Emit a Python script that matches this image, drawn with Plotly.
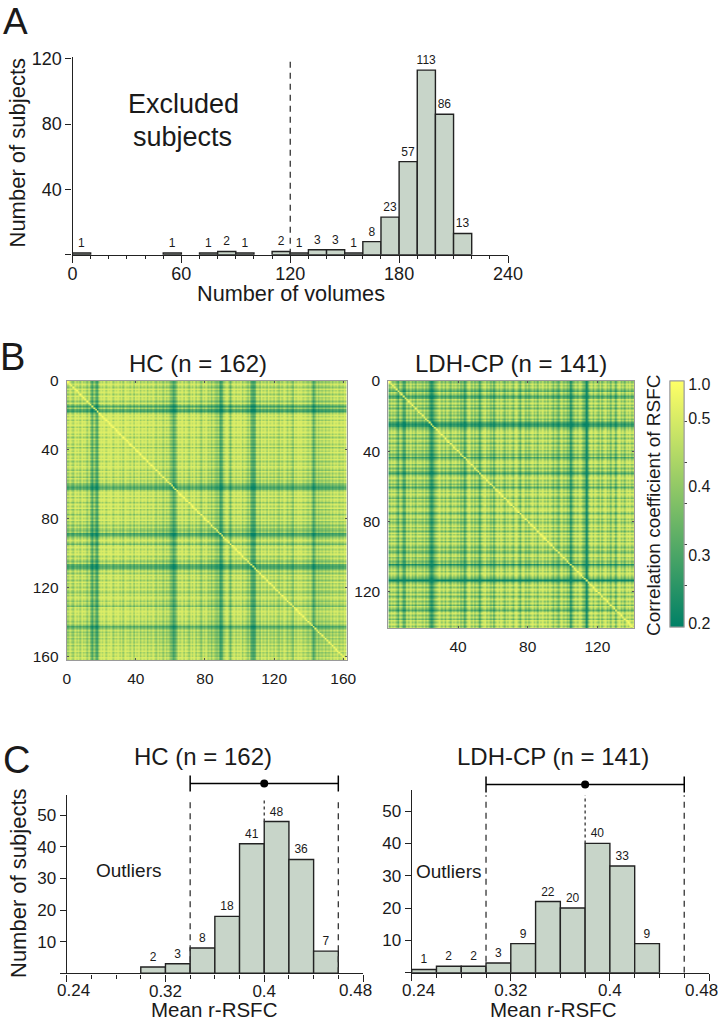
import numpy as np
import plotly.graph_objects as go

# panel A histogram
vol_left = [0, 50, 70, 80, 90, 110, 120, 130, 140, 150, 160, 170, 180, 190, 200, 210]
vol_counts = [1, 1, 1, 2, 1, 2, 1, 3, 3, 1, 8, 23, 57, 113, 86, 13]
vol_cutoff = 120

# panel C histograms (left bin edge, count)
hc_left = [0.30, 0.32, 0.34, 0.36, 0.38, 0.40, 0.42, 0.44]
hc_counts = [2, 3, 8, 18, 41, 48, 36, 7]
hc_lo, hc_mean, hc_hi = 0.34, 0.40, 0.46
ldh_left = [0.24, 0.26, 0.28, 0.30, 0.32, 0.34, 0.36, 0.38, 0.40, 0.42]
ldh_counts = [1, 2, 2, 3, 9, 22, 20, 40, 33, 9]
ldh_lo, ldh_mean, ldh_hi = 0.30, 0.38, 0.46

# panel B: typical correlation of each subject, read by eye from the stripes
# of the two matrices. The matrices are symmetric, so one list per group.
hc_level = [
    .42, .51, .46, .40, .52, .44, .50, .41, .53, .45,
    .48, .39, .50, .40, .29, .41, .31, .28, .44, .52,
    .46, .54, .43, .52, .48, .55, .42, .51, .47, .53,
    .44, .52, .41, .54, .47, .50, .43, .53, .40, .51,
    .46, .54, .42, .50, .45, .53, .41, .49, .44, .52,
    .47, .40, .51, .43, .48, .39, .50, .42, .46, .38,
    .35, .29, .33, .41, .50, .45, .53, .42, .51, .47,
    .40, .52, .44, .54, .41, .49, .46, .38, .50, .44,
    .52, .41, .47, .38, .46, .40, .37, .42, .28, .31,
    .40, .46, .51, .42, .34, .45, .52, .43, .50, .46,
    .53, .41, .49, .44, .38, .46, .32, .29, .31, .42,
    .47, .39, .51, .44, .49, .40, .52, .43, .48, .41,
    .50, .44, .39, .48, .42, .51, .46, .40, .47, .43,
    .35, .49, .44, .51, .46, .50, .43, .48, .45, .41,
    .47, .38, .30, .36, .46, .39, .44, .41, .47, .40,
    .45, .42, .49, .41, .48, .44, .50, .42, .47, .43, .51, .46,
]
ldh_level = [
    .38, .48, .41, .46, .37, .31, .47, .40, .29, .34,
    .48, .39, .50, .38, .46, .35, .49, .41, .44, .38,
    .47, .36, .42, .30, .25, .28, .36, .41, .47, .51,
    .39, .48, .37, .50, .43, .36, .49, .41, .47, .38,
    .46, .35, .42, .29, .40, .47, .51, .38, .48, .36,
    .45, .37, .29, .42, .48, .51, .39, .47, .37, .44,
    .31, .43, .50, .41, .52, .44, .36, .49, .40, .51,
    .43, .37, .48, .52, .40, .34, .47, .50, .38, .46,
    .37, .44, .51, .40, .49, .36, .52, .42, .53, .41,
    .49, .38, .51, .43, .36, .47, .40, .34, .46, .50,
    .39, .45, .36, .41, .24, .37, .43, .48, .40, .51,
    .44, .38, .35, .19, .38, .45, .50, .39, .52, .44,
    .38, .51, .36, .46, .52, .39, .48, .35, .50, .41,
    .32, .47, .52, .40, .49, .37, .51, .43, .53, .41, .48,
]
# colourbar labels and where they sit along the bar (it is not linear)
cbar_r = [0.2, 0.3, 0.4, 0.5, 1.0]
cbar_pos = [0.014, 0.29, 0.57, 0.848, 0.986]
cbar_text = ["0.2", "0.3", "0.4", "0.5", "1.0"]
cbar_marks = [1 / 6, 2 / 6, 3 / 6, 4 / 6, 5 / 6]

FONT = "Liberation Sans"
INK = "#1a1a1a"
BAR_FILL = "#c8d5c9"
W, H = 718, 1020


def dx(a, b):
    return [a / W, b / W]


def dy(top, bottom):
    return [1 - bottom / H, 1 - top / H]


def matrix(level, ref):
    lv = np.array(level)
    r = np.outer(lv, lv) / ref
    np.fill_diagonal(r, 1.0)
    return np.interp(r, cbar_r, cbar_pos)


def hist(fig, left, counts, width, axes):
    fig.add_trace(go.Bar(
        x=[v + width / 2 for v in left], y=counts, width=width,
        marker=dict(color=BAR_FILL, line=dict(color="#222222", width=1.4)),
        text=counts, textposition="outside", textangle=0, constraintext="none",
        textfont=dict(size=12, family=FONT, color=INK), cliponaxis=False,
        showlegend=False, xaxis=axes[0], yaxis=axes[1],
    ))


def vline(fig, x, y0, y1, dash, axes):
    fig.add_trace(go.Scatter(
        x=[x, x], y=[y0, y1], mode="lines", cliponaxis=False, showlegend=False,
        line=dict(color="#333333", width=1.3, dash=dash), xaxis=axes[0], yaxis=axes[1],
    ))


def bracket(fig, lo, mean, hi, y, axes):
    fig.add_trace(go.Scatter(
        x=[mean], y=[y], mode="markers", showlegend=False,
        marker=dict(color="black", size=8),
        error_x=dict(type="data", array=[(hi - lo) / 2], color="black", thickness=1.5, width=8),
        xaxis=axes[0], yaxis=axes[1],
    ))


fig = go.Figure()

hist(fig, vol_left, vol_counts, 10, ("x", "y"))
vline(fig, vol_cutoff, 0, 121, "6px,5px", ("x", "y"))

hc_z = matrix(hc_level, 0.455)
ldh_z = matrix(ldh_level, 0.435)
fig.add_trace(go.Heatmap(
    x=np.arange(len(hc_level)) + 0.5, y=np.arange(len(hc_level)) + 0.5, z=hc_z,
    zsmooth="best", coloraxis="coloraxis", xaxis="x2", yaxis="y2",
))
fig.add_trace(go.Heatmap(
    x=np.arange(len(ldh_level)) + 0.5, y=np.arange(len(ldh_level)) + 0.5, z=ldh_z,
    zsmooth="best", coloraxis="coloraxis2", xaxis="x3", yaxis="y3",
))

hist(fig, hc_left, hc_counts, 0.02, ("x4", "y4"))
vline(fig, hc_lo, 0, 55, "6px,5px", ("x4", "y6"))
vline(fig, hc_hi, 0, 55, "6px,5px", ("x4", "y6"))
vline(fig, hc_mean, 48, 55, "dot", ("x4", "y6"))
bracket(fig, hc_lo, hc_mean, hc_hi, 60, ("x4", "y6"))

hist(fig, ldh_left, ldh_counts, 0.02, ("x5", "y5"))
vline(fig, ldh_lo, 0, 55, "6px,5px", ("x5", "y7"))
vline(fig, ldh_hi, 0, 55, "6px,5px", ("x5", "y7"))
vline(fig, ldh_mean, 40, 55, "dot", ("x5", "y7"))
bracket(fig, ldh_lo, ldh_mean, ldh_hi, 58.3, ("x5", "y7"))

axis_line = dict(showline=True, linecolor="#222222", linewidth=1.4, showgrid=False,
                 zeroline=False, ticks="outside", tickcolor="#222222", tickwidth=1.2)
hist_x = dict(axis_line, ticklen=7, ticklabelstandoff=-5, tickfont=dict(size=18, family=FONT, color=INK))
hist_y = dict(axis_line, ticklen=6, tickfont=dict(size=18, family=FONT, color=INK))
c_font = dict(size=17, family=FONT, color=INK)
mat_axis = dict(showline=True, linecolor="#9a9a9a", linewidth=1, mirror="ticks", showgrid=False,
                zeroline=False, ticks="inside", ticklen=2, tickcolor="#555555", tickwidth=1,
                ticklabelstandoff=4, tickfont=dict(size=15.5, family=FONT, color=INK))

# panel C end labels are nudged inwards, so they go in as annotations below
c_ticks = [0.24, 0.32, 0.40, 0.48]
c_text = ["", "0.32", "0.4", ""]
c_minor = dict(dtick=0.02, tick0=0.24, ticks="outside", ticklen=4, tickcolor="#222222", tickwidth=1)
scale = [[0, "#008066"], [1, "#ffff66"]]
bar_place = dict(x=670 / W, xanchor="left", xpad=0, y=1 - 503.85 / H, yanchor="middle", ypad=0,
                 lenmode="pixels", len=245.7, thicknessmode="pixels", thickness=14,
                 outlinecolor="#9a9a9a", outlinewidth=1, borderwidth=0)

fig.update_layout(
    width=W, height=H, autosize=False, margin=dict(l=0, r=0, t=0, b=0, autoexpand=False),
    paper_bgcolor="white", plot_bgcolor="rgba(0,0,0,0)",
    barmode="overlay", font=dict(family=FONT, color=INK),
    xaxis=dict(hist_x, domain=dx(72.5, 508), anchor="y", range=[0, 240], tickvals=[0, 60, 120, 180, 240],
               minor=dict(dtick=10, ticks="outside", ticklen=3, tickcolor="#222222", tickwidth=1)),
    yaxis=dict(hist_y, domain=dy(57.1, 254.7), anchor="x", range=[0, 121], tickvals=[0, 40, 80, 120],
               ticktext=["", "40", "80", "120"]),
    xaxis2=dict(mat_axis, domain=dx(66.7, 346.7), anchor="y2", range=[0, 162], tickvals=[0, 40, 80, 120, 160]),
    yaxis2=dict(mat_axis, domain=dy(381, 660), anchor="x2", range=[162, 0], tickvals=[0, 40, 80, 120, 160]),
    xaxis3=dict(mat_axis, domain=dx(388.3, 634), anchor="y3", range=[0, 141], tickvals=[40, 80, 120]),
    yaxis3=dict(mat_axis, domain=dy(381, 628.3), anchor="x3", range=[141, 0], tickvals=[0, 40, 80, 120]),
    xaxis4=dict(hist_x, domain=dx(66.7, 363), anchor="y4", range=[0.24, 0.48], tickvals=c_ticks,
                ticktext=c_text, minor=c_minor, tickfont=c_font),
    yaxis4=dict(hist_y, domain=dy(795, 973.3), anchor="x4", range=[0, 56.4], tickvals=[0, 10, 20, 30, 40, 50],
                ticktext=["", "10", "20", "30", "40", "50"], tickfont=c_font),
    xaxis5=dict(hist_x, domain=dx(411.7, 709), anchor="y5", range=[0.24, 0.48], tickvals=c_ticks,
                ticktext=c_text, minor=c_minor, tickfont=c_font),
    yaxis5=dict(hist_y, domain=dy(790, 972.7), anchor="x5", range=[0, 56.5], tickvals=[0, 10, 20, 30, 40, 50],
                ticktext=["", "10", "20", "30", "40", "50"], tickfont=c_font),
    # hidden taller twins of the count axes, so the brackets above the axis tops can show
    yaxis6=dict(domain=dy(770, 973.3), anchor="x4", range=[0, 64.3], visible=False),
    yaxis7=dict(domain=dy(770, 972.7), anchor="x5", range=[0, 62.8], visible=False),
    # two stacked colourbars: one carries the tick marks, the other the labels,
    # because the original's labels do not line up with its ticks
    coloraxis=dict(
        cmin=0, cmax=1, colorscale=scale,
        colorbar=dict(bar_place, tickvals=cbar_marks, ticktext=["" for _ in cbar_marks], ticks="outside",
                      ticklen=3, tickcolor="#444444", tickwidth=1),
    ),
    coloraxis2=dict(
        cmin=0, cmax=1, colorscale=scale,
        colorbar=dict(bar_place, tickvals=cbar_pos, ticktext=cbar_text, ticks="",
                      tickfont=dict(size=16, family=FONT, color=INK)),
    ),
)


def label(text, x, y, size, angle=0):
    fig.add_annotation(text=text, x=x / W, y=1 - y / H, xref="paper", yref="paper",
                       xanchor="center", yanchor="middle", showarrow=False, textangle=angle,
                       font=dict(size=size, family=FONT, color=INK))


label("A", 15.5, 21, 37)
label("B", 12, 356.7, 38)
label("C", 16, 760, 38)
label("Excluded", 183, 104, 27)
label("subjects", 182, 137, 27)
label("Number of volumes", 291, 293, 21.7)
label("Number of subjects", 17, 152.5, 22, -90)
label("HC (n = 162)", 197.5, 363, 24)
label("LDH-CP (n = 141)", 510.8, 363, 24)
label("Correlation coefficient of RSFC", 653, 505, 19, -90)
label("HC (n = 162)", 202.5, 756.7, 24)
label("LDH-CP (n = 141)", 553, 756.7, 24)
label("Number of subjects", 18, 883, 22, -90)
label("Outliers", 128.5, 870, 19)
label("Outliers", 448, 871, 19)
label("Mean r-RSFC", 214, 1009, 20.5)
label("Mean r-RSFC", 553.5, 1009, 20.5)

# the 0.24 / 0.48 labels, shifted off their ticks like the original
for xa, ya in (("x4", "y4"), ("x5", "y5")):
    for val, txt, shift in ((0.24, "0.24", 7), (0.48, "0.48", -8)):
        fig.add_annotation(text=txt, x=val, y=0, xref=xa, yref=ya, xshift=shift, yshift=-6, yanchor="top",
                           showarrow=False, font=c_font)

fig.write_html("out.html", config={"displayModeBar": False}, post_script="document.body.style.margin='0';")
